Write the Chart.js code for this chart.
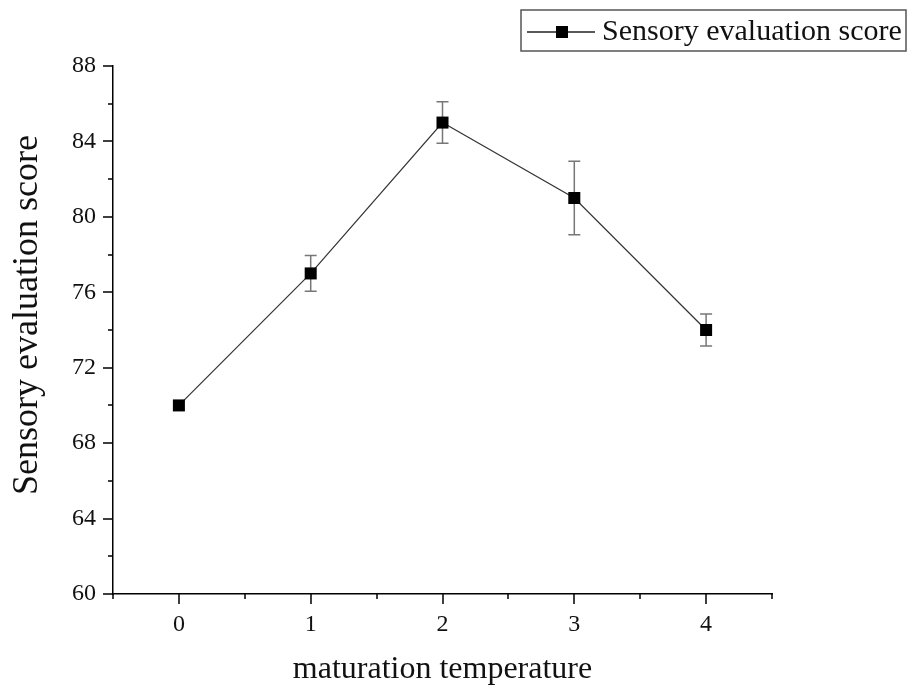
<!DOCTYPE html>
<html>
<head>
<meta charset="utf-8">
<script src="https://cdn.jsdelivr.net/npm/chart.js@4.4.1/dist/chart.umd.min.js"></script>
<style>
  body { margin: 0; background: #fff; }
  canvas { display: block; }
</style>
</head>
<body>
<canvas id="chart" width="908" height="688"></canvas>
<script>
const temperatures = [0, 1, 2, 3, 4];
const scores = [70, 77, 85, 81, 74];
const scoreErrors = [0, 0.95, 1.1, 1.95, 0.85];
const xTicks = [0, 1, 2, 3, 4];
const seriesLabel = 'Sensory evaluation score';
const xTitle = 'maturation temperature';

const SERIF = '"Liberation Serif", "Times New Roman", serif';

// error bars drawn under the square markers
const errorBars = {
  id: 'errorBars',
  beforeDatasetsDraw(chart) {
    const { ctx, scales: { x, y } } = chart;
    ctx.save();
    ctx.strokeStyle = '#777';
    ctx.lineWidth = 1.5;
    temperatures.forEach((t, i) => {
      const e = scoreErrors[i];
      if (!e) return;
      const px = x.getPixelForValue(t);
      const top = y.getPixelForValue(scores[i] + e);
      const bot = y.getPixelForValue(scores[i] - e);
      ctx.beginPath();
      ctx.moveTo(px, top); ctx.lineTo(px, bot);
      ctx.moveTo(px - 6, top); ctx.lineTo(px + 6, top);
      ctx.moveTo(px - 6, bot); ctx.lineTo(px + 6, bot);
      ctx.stroke();
    });
    ctx.restore();
  }
};

// outward major / minor tick marks and the axis titles
const axisDecor = {
  id: 'axisDecor',
  afterDraw(chart) {
    const { ctx, chartArea: a, scales: { x, y } } = chart;
    ctx.save();
    ctx.strokeStyle = '#000';
    ctx.lineWidth = 1.5;
    ctx.beginPath();
    for (let v = y.min; v <= y.max; v += 2) {
      const py = Math.round(y.getPixelForValue(v));
      const len = (v - y.min) % 4 === 0 ? 10 : 5;
      ctx.moveTo(a.left, py); ctx.lineTo(a.left - len, py);
    }
    for (let v = x.min; v <= x.max + 1e-9; v += 0.5) {
      const px = Math.round(x.getPixelForValue(v));
      const len = Number.isInteger(v) ? 10 : 5;
      ctx.moveTo(px, a.bottom); ctx.lineTo(px, a.bottom + len);
    }
    ctx.stroke();

    ctx.fillStyle = '#111';
    ctx.textAlign = 'center';
    ctx.textBaseline = 'alphabetic';
    ctx.font = '32px ' + SERIF;
    ctx.fillText(xTitle, (a.left + a.right) / 2, 678);

    ctx.translate(37, 315);
    ctx.rotate(-Math.PI / 2);
    ctx.font = '36px ' + SERIF;
    ctx.fillText(seriesLabel, 0, 0);
    ctx.restore();
  }
};

// boxed legend in the top right corner
const boxLegend = {
  id: 'boxLegend',
  afterDraw(chart) {
    const { ctx } = chart;
    ctx.save();
    ctx.strokeStyle = '#555';
    ctx.lineWidth = 1.5;
    ctx.strokeRect(521, 10, 385, 41);
    ctx.strokeStyle = '#222';
    ctx.lineWidth = 1.3;
    ctx.beginPath();
    ctx.moveTo(527, 32); ctx.lineTo(595, 32);
    ctx.stroke();
    ctx.fillStyle = '#000';
    ctx.fillRect(556, 26, 12, 12);
    ctx.fillStyle = '#111';
    ctx.font = '30px ' + SERIF;
    ctx.textBaseline = 'middle';
    ctx.fillText(seriesLabel, 602, 32);
    ctx.restore();
  }
};

new Chart(document.getElementById('chart'), {
  type: 'line',
  data: {
    datasets: [{
      label: seriesLabel,
      data: temperatures.map((t, i) => ({ x: t, y: scores[i] })),
      borderColor: '#333',
      borderWidth: 1.2,
      pointStyle: 'rect',
      pointRadius: 8.5,
      pointBackgroundColor: '#000',
      pointBorderColor: '#000',
      pointBorderWidth: 0,
      tension: 0
    }]
  },
  options: {
    responsive: false,
    animation: false,
    layout: { padding: { left: 0, top: 66, right: 136, bottom: 0 } },
    plugins: {
      legend: { display: false },
      tooltip: { enabled: false }
    },
    scales: {
      x: {
        type: 'linear',
        min: -0.5,
        max: 4.5,
        afterBuildTicks: (scale) => { scale.ticks = xTicks.map(v => ({ value: v })); },
        afterFit: (scale) => { scale.height = 94; },
        grid: { drawOnChartArea: false, tickLength: 10, tickColor: 'rgba(0,0,0,0)' },
        border: { color: '#000', width: 1.5 },
        ticks: { color: '#111', padding: 6, font: { family: SERIF, size: 24 } }
      },
      y: {
        min: 60,
        max: 88,
        afterFit: (scale) => { scale.width = 113; },
        grid: { drawOnChartArea: false, tickLength: 10, tickColor: 'rgba(0,0,0,0)' },
        border: { color: '#000', width: 1.5 },
        ticks: { stepSize: 4, color: '#111', padding: 7, font: { family: SERIF, size: 24 } }
      }
    }
  },
  plugins: [errorBars, axisDecor, boxLegend]
});
</script>
</body>
</html>
